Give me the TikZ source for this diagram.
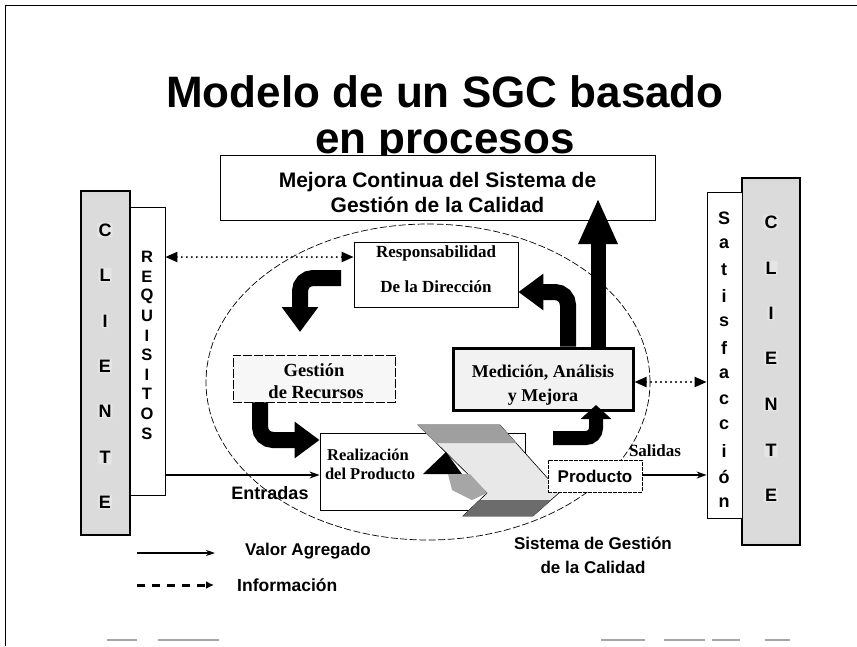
\documentclass[tikz,border=0pt]{standalone}
\usepackage{fontspec}
\setmainfont{Liberation Serif}
\setsansfont{Liberation Sans}
\usetikzlibrary{arrows.meta,calc,shapes.geometric}

% vertical shading for the two client bars: dark ends, light middle
\pgfdeclareverticalshading{barshade}{100bp}{%
  color(0bp)=(black); color(7bp)=(black!90); color(16bp)=(black!35);
  color(26bp)=(black!14); color(74bp)=(black!14); color(84bp)=(black!35);
  color(93bp)=(black!90); color(100bp)=(black)}

\begin{document}
\begin{tikzpicture}[x=1pt,y=-1pt,
  sansb/.style={font=\sffamily\bfseries\fontsize{#1}{#1}\selectfont, inner sep=0pt},
  serifb/.style={font=\rmfamily\bfseries\fontsize{#1}{#1}\selectfont, inner sep=0pt},
  plainbox/.style={draw, line width=0.8pt, fill=white, inner sep=0pt},
  clientbar/.style={draw, line width=1.8pt, shade, shading=barshade, inner sep=0pt},
  barletter/.style={font=\sffamily\bfseries\fontsize{18}{18}\selectfont, fill=white!90!black,
    rounded corners=2pt, inner sep=1.2pt},
  stackletter/.style={font=\sffamily\bfseries\fontsize{16.5}{16.5}\selectfont, inner sep=0pt},
  bigarrow/.style={line width=16pt, rounded corners=13pt,
    -{Triangle[width=35pt,length=25pt]}},
  smallbent/.style={line width=14pt, rounded corners=10pt,
    -{Triangle[width=30pt,length=14pt]}},
  uparrow/.style={line width=15pt, -{Triangle[width=36pt,length=46pt]}},
  valarrow/.style={line width=1.4pt, -{Stealth[length=10pt,width=7pt]}},
  infoarrow/.style={line width=2.2pt, dash pattern=on 0pt off 5pt, line cap=round,
    {Triangle[width=10pt,length=12pt]}-{Triangle[width=10pt,length=12pt]}},
]
\useasboundingbox (0,0) rectangle (857,646);

% page frame
\draw[line width=1pt] (5,646) -- (5,5) -- (857,5);
\foreach \xa/\xb in {107/137, 158/219, 601/645, 664/705, 712/740, 765/790}
  \draw[gray!70, line width=1.6pt] (\xa,640) -- (\xb,640);

% title
\node[sansb=44, anchor=base] (title1) at (445,107) {Modelo de un SGC basado};
\node[sansb=44, anchor=base] (title2) at (445,153) {en procesos};

% continual improvement box
\node[plainbox, minimum width=435pt, minimum height=65pt] (mejora) at (437.5,187.5) {};
\node[align=center, inner sep=0pt, font=\sffamily\bfseries\fontsize{21}{25}\selectfont]
  (mejoraT) at (437.5,192) {Mejora Continua del Sistema de\\Gestión de la Calidad};

% the quality management system
\draw[line width=0.7pt, dash pattern=on 7pt off 2.5pt] (428,382) ellipse [x radius=222pt, y radius=158pt];

% client bars
\node[clientbar, minimum width=49pt, minimum height=344pt] (cliL) at (105.5,363) {};
\node[clientbar, minimum width=58pt, minimum height=367pt] (cliR) at (771,361.5) {};
\foreach \ch/\yy [count=\i] in {C/230, L/275, I/321, E/366, N/411, T/457, E/502}
  \node[barletter] (cl\i) at (105,\yy) {\ch};
\foreach \ch/\yy [count=\i] in {C/222, L/268, I/313, E/358, N/404, T/450, E/495}
  \node[barletter] (cr\i) at (771,\yy) {\ch};

% requirement and satisfaction strips
\node[plainbox, minimum width=35pt, minimum height=288pt] (req) at (147.5,351) {};
\foreach \ch/\yy [count=\i] in {R/257, E/276.6, Q/296.2, U/315.8, I/335.4, S/355, I/374.6, T/394.2, O/413.8, S/433.4}
  \node[stackletter] (rq\i) at (147,\yy) {\ch};
\node[plainbox, minimum width=35pt, minimum height=326pt] (sat) at (724.5,355) {};
\foreach \ch/\yy [count=\i] in {S/218, a/243.9, t/269.8, i/295.7, s/321.6, f/347.5, a/373.4, c/399.3, c/425.2, i/451.1, ó/477, n/502.9}
  \node[font=\sffamily\bfseries\fontsize{18}{18}\selectfont, inner sep=0pt] (st\i) at (724,\yy) {\ch};

% process boxes
\node[plainbox, minimum width=164pt, minimum height=65pt] (resp) at (436,274.5) {};
\node[serifb=17] (respT1) at (436,253) {Responsabilidad};
\node[serifb=17] (respT2) at (436,287) {De la Dirección};

\node[draw, line width=0.9pt, dash pattern=on 9pt off 2pt, fill=gray!6, minimum width=162pt,
      minimum height=47pt, inner sep=0pt] (gest) at (314,378.5) {};
\node[serifb=18.5] (gestT1) at (314,370) {Gestión};
\node[serifb=18.5] (gestT2) at (316,392) {de Recursos};

\node[draw, line width=3pt, fill=gray!10, minimum width=180pt, minimum height=62pt,
      inner sep=0pt] (med) at (543,379) {};
\node[serifb=18] (medT1) at (543,373) {Medición, Análisis};
\node[serifb=18] (medT2) at (543,397) {y Mejora};

% product realization with its process chevron
\node[plainbox, minimum width=205pt, minimum height=77pt] (realbox) at (422.5,471.5) {};
\filldraw[fill=gray!18, draw=black, line width=0.6pt]
  (418,425) -- (500,425) -- (560,492) -- (533,516) -- (463,516) -- (487,493) -- cycle;
\fill[gray!75] (418,425) -- (500,425) -- (516,443) -- (436,443) -- cycle;
\fill[gray!85!black] (480,500) -- (551,500) -- (533,516) -- (463,516) -- cycle;
\fill[black] (446,452) -- (423,474) -- (462,474) -- cycle;
\fill[gray!70] (448,474) -- (470,474) -- (487,493) -- (472,500) -- (452,490) -- cycle;
\node[serifb=16.5] (realT1) at (368,455) {Realización};
\node[serifb=16.5] (realT2) at (370,474) {del Producto};

\node[draw, line width=0.7pt, dash pattern=on 4pt off 1pt, fill=white, minimum width=94pt,
      minimum height=32pt, inner sep=0pt, font=\sffamily\bfseries\fontsize{17}{17}\selectfont]
  (prod) at (595,476) {Producto};

% helper coordinates for the connector rows and arrow bends
\coordinate (yInfo) at (0,257);
\coordinate (yRespB) at (0,292);
\coordinate (yMedI) at (0,382);
\coordinate (yFlow) at (0,475);
\coordinate (yReal) at (0,440);
\coordinate (xB) at (568,0);
\coordinate (xC) at (260,0);
\coordinate (xE) at (598,0);
\coordinate (startA) at (341,278);
\coordinate (tipA) at (300,332);
\coordinate (startD) at (553,438);
\coordinate (tipD) at (596,405);
\coordinate (tipE) at (598,198);

% PDCA cycle arrows
\draw[bigarrow] (startA) -| (tipA);
\draw[bigarrow] (med.north -| xB) |- (resp.east |- yRespB);
\draw[bigarrow] (gest.south -| xC) |- (realbox.west |- yReal);
\draw[smallbent] (startD) -| (tipD);
\draw[uparrow] (med.north -| xE) -- (tipE);

% information flows
\draw[infoarrow] (req.east |- yInfo) -- (resp.west |- yInfo);
\draw[infoarrow] (med.east |- yMedI) -- (sat.west |- yMedI);

% value-added flows
\draw[valarrow] (req.east |- yFlow) -- (realbox.west |- yFlow);
\draw[valarrow] (prod.east |- yFlow) -- (sat.west |- yFlow);
\node[sansb=18] (entr) at (270,493) {Entradas};
\node[serifb=17] (sal) at (655,451) {Salidas};

\node[sansb=17] (sgc1) at (593,543) {Sistema de Gestión};
\node[sansb=17] (sgc2) at (593,567) {de la Calidad};

% legend
\coordinate (lgA1) at (137,553);
\coordinate (lgA2) at (215,553);
\coordinate (lgB1) at (137,585);
\coordinate (lgB2) at (214,585);
\draw[line width=1.4pt, -{Stealth[length=9pt,width=6pt]}] (lgA1) -- (lgA2);
\draw[line width=3pt, dash pattern=on 8pt off 7pt, -{Latex[length=8pt,width=8pt]}] (lgB1) -- (lgB2);
\node[sansb=17, anchor=west] (lva) at (245,551) {Valor Agregado};
\node[sansb=17.5, anchor=west] (lin) at (237,585) {Información};
\end{tikzpicture}
\end{document}
